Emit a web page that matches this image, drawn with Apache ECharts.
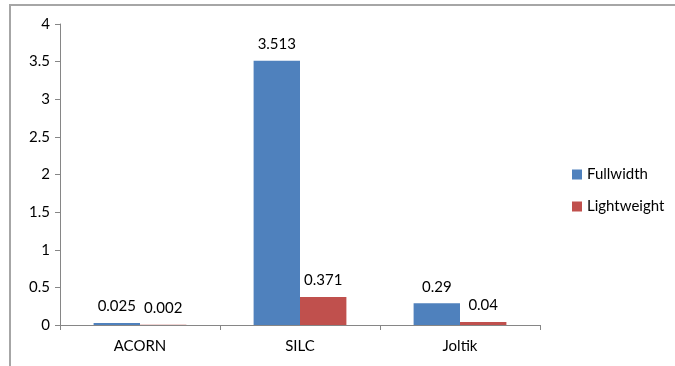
<!DOCTYPE html>
<html>
<head>
<meta charset="utf-8">
<script src="https://cdn.jsdelivr.net/npm/echarts@6/dist/echarts.min.js"></script>
<style>
    html, body { margin: 0; padding: 0; background: #fff; }
    #chart { width: 675px; height: 366px; }
</style>
</head>
<body>
<div id="chart"></div>
<script>
    // values
    const categories = ["ACORN", "SILC", "Joltik"];
    const fullwidth = [0.025, 3.513, 0.29];
    const lightweight = [0.002, 0.371, 0.04];
    const yTicks = [0, 0.5, 1, 1.5, 2, 2.5, 3, 3.5, 4];

    const font = "Lato, 'Liberation Sans', sans-serif";
    const axisGray = "#868686";

    let chart = echarts.init(document.getElementById("chart"));
    chart.setOption({
        animation: false,
        textStyle: { fontFamily: font },
        graphic: [
            {
                type: "polyline",
                shape: { points: [[10, 366], [10, 5], [675, 5]] },
                style: { stroke: "#a6a6a6", lineWidth: 2, fill: null },
                silent: true
            }
        ],
        legend: {
            orient: "vertical",
            left: 567,
            top: 162,
            itemWidth: 10,
            itemHeight: 10,
            itemGap: 17,
            icon: "rect",
            textStyle: { fontFamily: font, fontSize: 15, color: "#000" },
            data: ["Fullwidth", "Lightweight"]
        },
        grid: {
            left: 60,
            right: 135,
            top: 24,
            bottom: 41
        },
        xAxis: {
            type: "category",
            data: categories,
            axisLine: { lineStyle: { color: axisGray } },
            axisTick: { show: true, length: 5, lineStyle: { color: axisGray } },
            axisLabel: { color: "#000", fontSize: 15, margin: 14, fontFamily: font }
        },
        yAxis: {
            type: "value",
            min: yTicks[0],
            max: yTicks[yTicks.length - 1],
            interval: 0.5,
            axisLine: { show: true, lineStyle: { color: axisGray } },
            axisTick: { show: true, length: 5, lineStyle: { color: axisGray } },
            splitLine: { show: false },
            axisLabel: { color: "#000", fontSize: 15, margin: 10, fontFamily: font }
        },
        series: [
            {
                name: "Fullwidth",
                type: "bar",
                data: fullwidth,
                barGap: "0%",
                barCategoryGap: "42%",
                itemStyle: { color: "#4f81bd" },
                label: { show: true, position: "top", distance: 9, color: "#000", fontSize: 15, fontFamily: font }
            },
            {
                name: "Lightweight",
                type: "bar",
                data: lightweight,
                itemStyle: { color: "#c0504d" },
                label: { show: true, position: "top", distance: 9, color: "#000", fontSize: 15, fontFamily: font }
            }
        ]
    });
</script>
</body>
</html>
